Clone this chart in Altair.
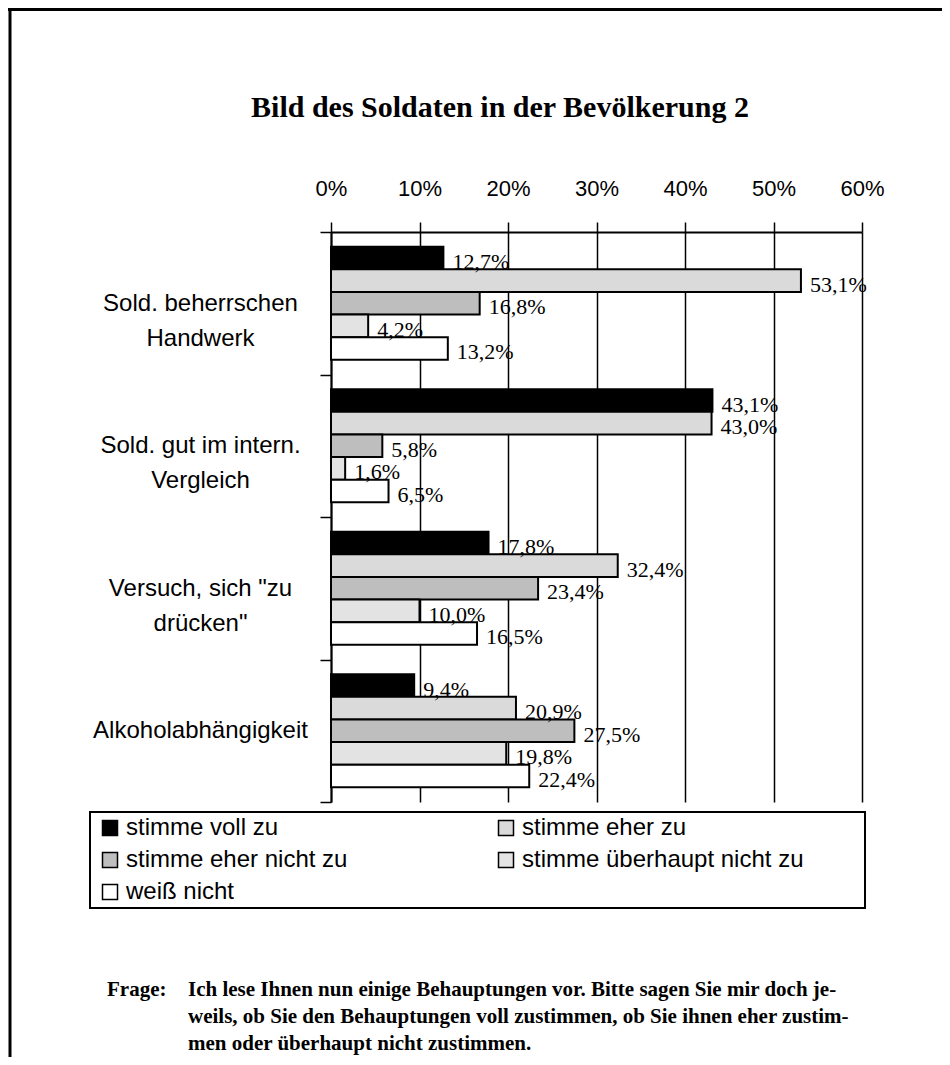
import altair as alt
import pandas as pd

categories = [
    "Sold. beherrschen|Handwerk",
    "Sold. gut im intern.|Vergleich",
    'Versuch, sich "zu|drücken"',
    "Alkoholabhängigkeit",
]
series = [
    "stimme voll zu",
    "stimme eher zu",
    "stimme eher nicht zu",
    "stimme überhaupt nicht zu",
    "weiß nicht",
]
v_voll = [12.7, 43.1, 17.8, 9.4]
v_eher = [53.1, 43.0, 32.4, 20.9]
v_eher_nicht = [16.8, 5.8, 23.4, 27.5]
v_ueberhaupt_nicht = [4.2, 1.6, 10.0, 19.8]
v_weiss_nicht = [13.2, 6.5, 16.5, 22.4]
colors = ["#000000", "#dadada", "#bebebe", "#e3e3e3", "#ffffff"]
x_ticks = [0, 10, 20, 30, 40, 50, 60]

title_text = "Bild des Soldaten in der Bevölkerung 2"
frage_label = "Frage:"
frage_lines = [
    "Ich lese Ihnen nun einige Behauptungen vor. Bitte sagen Sie mir doch je-",
    "weils, ob Sie den Behauptungen voll zustimmen, ob  Sie ihnen eher zustim-",
    "men oder überhaupt nicht zustimmen.",
]

all_values = [v_voll, v_eher, v_eher_nicht, v_ueberhaupt_nicht, v_weiss_nicht]
rows = []
for s, vals in zip(series, all_values):
    for c, v in zip(categories, vals):
        rows.append({"cat": c, "series": s, "value": v})
df = pd.DataFrame(rows)

W, H = 531, 570

y_enc = alt.Y(
    "cat:N",
    sort=categories,
    title=None,
    scale=alt.Scale(paddingInner=0, paddingOuter=0),
    axis=alt.Axis(
        orient="left",
        tickBand="extent",
        tickSize=11,
        tickWidth=1.5,
        tickColor="black",
        domainColor="black",
        domainWidth=2,
        labelAlign="center",
        labelBaseline="middle",
        labelPadding=120,
        labelFont="Liberation Sans",
        labelFontSize=24,
        labelLineHeight=35,
        labelColor="black",
        labelLimit=400,
        labelExpr="split(datum.label, '|')",
        grid=False,
    ),
)
yoff_enc = alt.YOffset(
    "series:N", sort=series, scale=alt.Scale(paddingInner=0, paddingOuter=0.65)
)
x_enc = alt.X(
    "value:Q",
    title=None,
    scale=alt.Scale(domain=[0, 60], nice=False, zero=True),
    axis=alt.Axis(
        orient="top",
        values=x_ticks,
        labelExpr="datum.value + '%'",
        labelFlush=False,
        labelOverlap=False,
        tickSize=10,
        tickWidth=1.5,
        tickColor="black",
        domainColor="black",
        domainWidth=2,
        grid=True,
        gridColor="black",
        gridWidth=1.5,
        gridOpacity=1,
        labelFont="Liberation Sans",
        labelFontSize=22,
        labelColor="black",
        labelPadding=22,
    ),
)

bars = alt.Chart(df).mark_bar(stroke="black", strokeWidth=2).encode(
    y=y_enc,
    yOffset=yoff_enc,
    x=x_enc,
    fill=alt.Fill(
        "series:N",
        sort=series,
        scale=alt.Scale(domain=series, range=colors),
        legend=alt.Legend(
            title=None,
            orient="none",
            direction="horizontal",
            legendX=-233,
            legendY=584,
            columns=2,
            columnPadding=146,
            rowPadding=8,
            symbolType="square",
            symbolSize=225,
            symbolStrokeColor="black",
            symbolStrokeWidth=1.5,
            labelFont="Liberation Sans",
            labelFontSize=24,
            labelColor="black",
            labelLimit=400,
            labelOffset=4,
        ),
    ),
)

labels = (
    alt.Chart(df)
    .transform_calculate(
        lab="replace(format(datum.value, '.1f'), '.', ',') + '%'"
    )
    .mark_text(
        align="left",
        baseline="middle",
        dx=9,
        dy=4,
        font="Liberation Serif",
        fontSize=22,
        color="black",
    )
    .encode(
        y=alt.Y("cat:N", sort=categories, title=None),
        yOffset=alt.YOffset("series:N", sort=series),
        x=alt.X("value:Q", title=None),
        text="lab:N",
    )
)

one = pd.DataFrame({"k": [0]})

title = (
    alt.Chart(pd.DataFrame({"t": [title_text]}))
    .mark_text(
        align="center",
        baseline="middle",
        font="Liberation Serif",
        fontSize=30,
        fontWeight="bold",
        color="black",
    )
    .encode(text="t:N", x=alt.value(169), y=alt.value(-124))
)

frage_layers = [
    alt.Chart(pd.DataFrame({"t": [frage_label]}))
    .mark_text(
        align="left",
        baseline="middle",
        font="Liberation Serif",
        fontSize=21,
        fontWeight="bold",
        color="black",
    )
    .encode(text="t:N", x=alt.value(-224), y=alt.value(758))
]
for i, line in enumerate(frage_lines):
    frage_layers.append(
        alt.Chart(pd.DataFrame({"t": [line]}))
        .mark_text(
            align="left",
            baseline="middle",
            font="Liberation Serif",
            fontSize=21,
            fontWeight="bold",
            color="black",
        )
        .encode(text="t:N", x=alt.value(-143), y=alt.value(758 + 27 * i))
    )

legend_box = (
    alt.Chart(one)
    .mark_rect(fillOpacity=0, stroke="black", strokeWidth=2)
    .encode(
        x=alt.value(-241), x2=alt.value(534), y=alt.value(580), y2=alt.value(676)
    )
)

frame_top = (
    alt.Chart(one)
    .mark_rule(color="black", strokeWidth=3)
    .encode(x=alt.value(-323), x2=alt.value(611), y=alt.value(-222.5))
)
frame_left = (
    alt.Chart(one)
    .mark_rule(color="black", strokeWidth=3)
    .encode(x=alt.value(-321), y=alt.value(-224), y2=alt.value(825))
)

chart = (
    alt.layer(bars, labels, title, legend_box, frame_top, frame_left, *frage_layers)
    .properties(
        width=W,
        height=H,
        autosize=alt.AutoSizeParams(type="none"),
        padding={"left": 323, "top": 224, "right": 80, "bottom": 255},
        background="white",
    )
    .configure_view(stroke="transparent")
)

chart.save("out.html", embed_options={"renderer": "svg", "actions": False})
